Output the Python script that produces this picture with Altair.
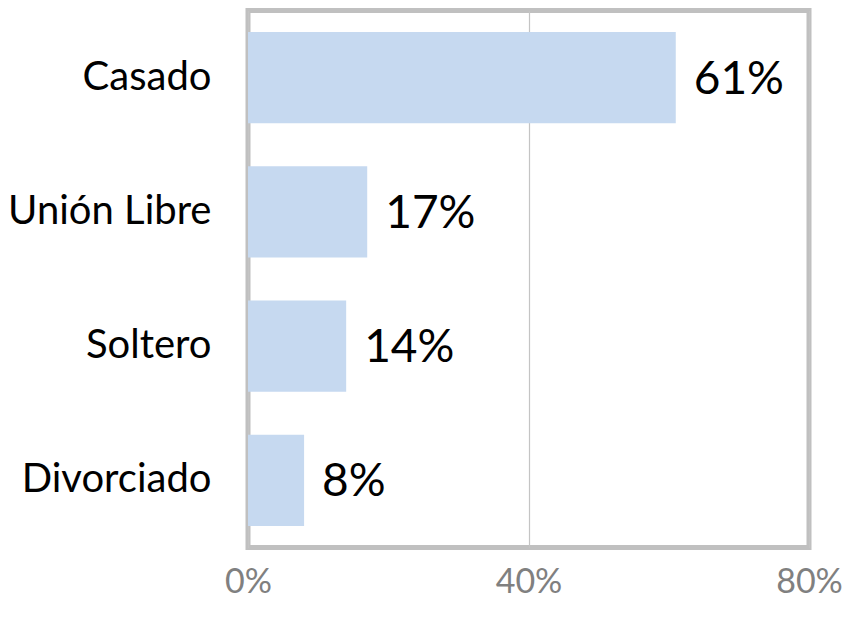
import altair as alt
import pandas as pd

categories = ["Casado", "Unión Libre", "Soltero", "Divorciado"]
values = [61, 17, 14, 8]
labels = ["61%", "17%", "14%", "8%"]
tick_values = [0, 40, 80]

df = pd.DataFrame({"cat": categories, "val": values, "lab": labels})

FONT = "Lato"

base = alt.Chart(df).encode(
    y=alt.Y("cat:N", sort=categories, title=None,
            scale=alt.Scale(paddingInner=0.32, paddingOuter=0.16),
            axis=alt.Axis(labelFontSize=40, labelColor="#000000", labelFont=FONT,
                          labelPadding=37, ticks=False, domain=False, grid=False,
                          labelLimit=300)),
    x=alt.X("val:Q", title=None,
            scale=alt.Scale(domain=[0, 80], nice=False),
            axis=alt.Axis(values=tick_values, labelExpr="datum.value + '%'",
                          labelFontSize=34, labelColor="#808080", labelFont=FONT,
                          labelPadding=18, ticks=False, domain=False,
                          grid=True, gridColor="#c4c4c4", gridWidth=1.2,
                          labelFlush=False)),
)

bars = base.mark_bar(color="#c6d9f0")
text = base.mark_text(align="left", baseline="middle", dx=18, dy=2,
                      fontSize=46, font=FONT, color="#000000").encode(text="lab:N")

chart = (bars + text).properties(
    width=561, height=537,
    autosize=alt.AutoSizeParams(type="none"),
    padding={"left": 240, "top": 2.5, "right": 35, "bottom": 56},
).configure(background="white").configure_view(stroke="#c0c0c0", strokeWidth=5)

chart.save("out.html", embed_options={"renderer": "svg", "actions": False})
